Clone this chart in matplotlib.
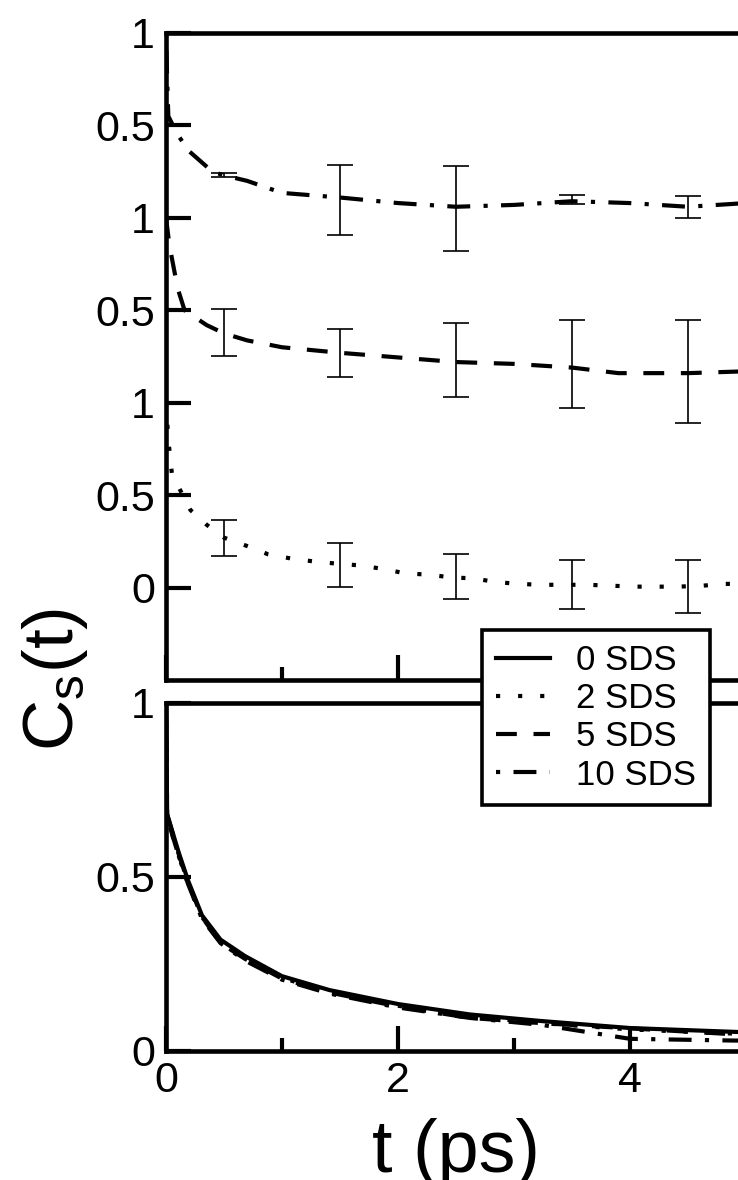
import numpy as np
import matplotlib
matplotlib.use("Agg")
import matplotlib.pyplot as plt

plt.rcParams['font.family'] = ['Liberation Sans', 'DejaVu Sans']
plt.rcParams['mathtext.fontset'] = 'custom'
plt.rcParams['mathtext.rm'] = 'Liberation Sans'
plt.rcParams['mathtext.it'] = 'Liberation Sans'

# ---------------- data ----------------
labels = ['0 SDS', '2 SDS', '5 SDS', '10 SDS']

# Top panel (curves shifted vertically)
offset_10 = 2.0
offset_5 = 1.0
offset_2 = 0.0

t_top_10 = [0, 0.01, 0.02, 0.1, 0.2, 0.4, 0.5, 0.7, 1.0, 1.5, 2.0, 2.5, 3.0, 3.5, 4.0, 4.5, 5.0]
c_top_10 = [1.0, 0.75, 0.55, 0.45, 0.36, 0.25, 0.23, 0.20, 0.135, 0.11, 0.08, 0.06, 0.07, 0.09, 0.08, 0.06, 0.08]

t_top_5 = [0, 0.03, 0.1, 0.16, 0.35, 0.5, 0.7, 1.0, 1.5, 2.0, 2.5, 3.0, 3.5, 3.9, 4.5, 5.0]
c_top_5 = [1.0, 0.85, 0.62, 0.5, 0.42, 0.375, 0.337, 0.30, 0.27, 0.245, 0.22, 0.21, 0.19, 0.16, 0.16, 0.17]

t_top_2 = [0, 0.02, 0.05, 0.12, 0.21, 0.35, 0.5, 0.72, 0.88, 1.08, 1.29, 1.5, 1.67, 1.88,
           2.06, 2.26, 2.46, 2.64, 2.85, 3.03, 3.24, 3.64, 3.84, 4.05, 4.41, 4.62, 4.82, 5.0]
c_top_2 = [1.0, 0.8, 0.62, 0.53, 0.42, 0.34, 0.27, 0.22, 0.18, 0.157, 0.14, 0.128, 0.12, 0.10,
           0.077, 0.07, 0.055, 0.05, 0.03, 0.02, 0.015, 0.015, 0.01, 0.005, 0.005, 0.01, 0.02, 0.02]

t_err = [0.5, 1.5, 2.5, 3.5, 4.5]
err_c_10 = [0.23, 0.095, 0.05, 0.10, 0.06]
err_h_10 = [0.01, 0.19, 0.23, 0.025, 0.06]
err_c_5 = [0.38, 0.27, 0.23, 0.21, 0.17]
err_h_5 = [0.125, 0.13, 0.20, 0.24, 0.28]
err_c_2 = [0.27, 0.123, 0.06, 0.016, 0.005]
err_h_2 = [0.097, 0.118, 0.122, 0.131, 0.142]

top_ticks = [0, 0.5, 1.0, 1.5, 2.0, 2.5, 3.0]
top_ticklabels = ['0', '0.5', '1', '0.5', '1', '0.5', '1']

# Bottom panel (all curves unshifted)
t_bot = [0, 0.01, 0.11, 0.19, 0.31, 0.47, 0.68, 1.0, 1.41, 2.0, 2.62, 3.24, 4.0, 4.9, 5.0]
c_bot_0 = [1.0, 0.68, 0.57, 0.49, 0.39, 0.32, 0.273, 0.215, 0.175, 0.135, 0.105, 0.086, 0.066, 0.055, 0.054]
c_bot_2 = [1.0, 0.67, 0.56, 0.48, 0.385, 0.315, 0.268, 0.21, 0.17, 0.13, 0.10, 0.08, 0.062, 0.05, 0.05]
c_bot_5 = [1.0, 0.68, 0.565, 0.485, 0.385, 0.31, 0.265, 0.208, 0.168, 0.128, 0.095, 0.08, 0.065, 0.048, 0.047]
c_bot_10 = [1.0, 0.67, 0.56, 0.48, 0.38, 0.31, 0.26, 0.205, 0.165, 0.125, 0.095, 0.075, 0.035, 0.03, 0.03]

bot_ticks = [0, 0.5, 1.0]
bot_ticklabels = ['0', '0.5', '1']
x_major = [0, 2, 4]
x_minor = [1, 3, 5]
x_ticklabels = ['0', '2', '4']

# ---------------- styles ----------------
LW = 3.0
styles = {
    '0 SDS': '-',
    '2 SDS': (0, (1, 4.3)),
    '5 SDS': (0, (5, 4)),
    '10 SDS': (0, (1, 3.2, 5.5, 3.2)),
}

W, H = 738, 1180
fig = plt.figure(figsize=(W / 100, H / 100), dpi=100)

x0 = 166
xr = 746
ax_top = fig.add_axes([x0 / W, 1 - 680 / H, (xr - x0) / W, (680 - 33) / H])
ax_bot = fig.add_axes([x0 / W, 1 - 1051 / H, (xr - x0) / W, (1051 - 703) / H])

# top panel curves
ax_top.plot(t_top_10, np.array(c_top_10) + offset_10, color='black', lw=LW, linestyle=styles['10 SDS'])
ax_top.plot(t_top_5, np.array(c_top_5) + offset_5, color='black', lw=LW, linestyle=styles['5 SDS'])
ax_top.plot(t_top_2, np.array(c_top_2) + offset_2, color='black', lw=LW, linestyle=styles['2 SDS'])

ekw = dict(fmt='none', ecolor='black', elinewidth=1.2, capsize=9.5, capthick=1.2)
ax_top.errorbar(t_err, np.array(err_c_10) + offset_10, yerr=err_h_10, **ekw)
ax_top.errorbar(t_err, np.array(err_c_5) + offset_5, yerr=err_h_5, **ekw)
ax_top.errorbar(t_err, np.array(err_c_2) + offset_2, yerr=err_h_2, **ekw)

ax_top.set_xlim(0, 5)
ax_top.set_ylim(-0.5, 3.0)
ax_top.set_yticks(top_ticks)
ax_top.set_yticklabels(top_ticklabels)
ax_top.set_xticks(x_major)
ax_top.set_xticks(x_minor, minor=True)
ax_top.set_xticklabels([])

# bottom panel curves
handles = []
for lab, c in zip(labels, [c_bot_0, c_bot_2, c_bot_5, c_bot_10]):
    h, = ax_bot.plot(t_bot, c, color='black', lw=LW, linestyle=styles[lab], label=lab)
    handles.append(h)

ax_bot.set_xlim(0, 5)
ax_bot.set_ylim(0, 1)
ax_bot.set_yticks(bot_ticks)
ax_bot.set_yticklabels(bot_ticklabels)
ax_bot.set_xticks(x_major)
ax_bot.set_xticks(x_minor, minor=True)
ax_bot.set_xticklabels(x_ticklabels)

for ax in (ax_top, ax_bot):
    for sp in ax.spines.values():
        sp.set_linewidth(3.3)
    ax.tick_params(which='major', direction='in', length=18, width=3.0,
                   labelsize=31, top=False, right=False)
    ax.tick_params(which='minor', direction='in', length=9.5, width=3.0,
                   top=False, right=False)
    ax.tick_params(axis='y', which='minor', left=False)
    ax.tick_params(axis='y', pad=8)
    ax.tick_params(axis='x', pad=7)

# legend on top of both panels
leg = fig.legend(handles, labels, loc='upper left',
                 bbox_to_anchor=(482 / W, 1 - 630 / H), bbox_transform=fig.transFigure,
                 borderaxespad=0, frameon=True, fancybox=False, edgecolor='black',
                 framealpha=1, fontsize=25, handlelength=1.55, handletextpad=0.75,
                 borderpad=0.4, labelspacing=0.15)
leg.get_frame().set_linewidth(2.6)

# axis labels
fig.text(456 / W, 1 - 1172 / H, 't (ps)', fontsize=53, ha='center', va='baseline')
fig.text(55 / W, 1 - 679 / H, r'$\mathrm{C_s(t)}$', fontsize=51, rotation=90,
         ha='center', va='center')

fig.savefig('out.png', dpi=100)
